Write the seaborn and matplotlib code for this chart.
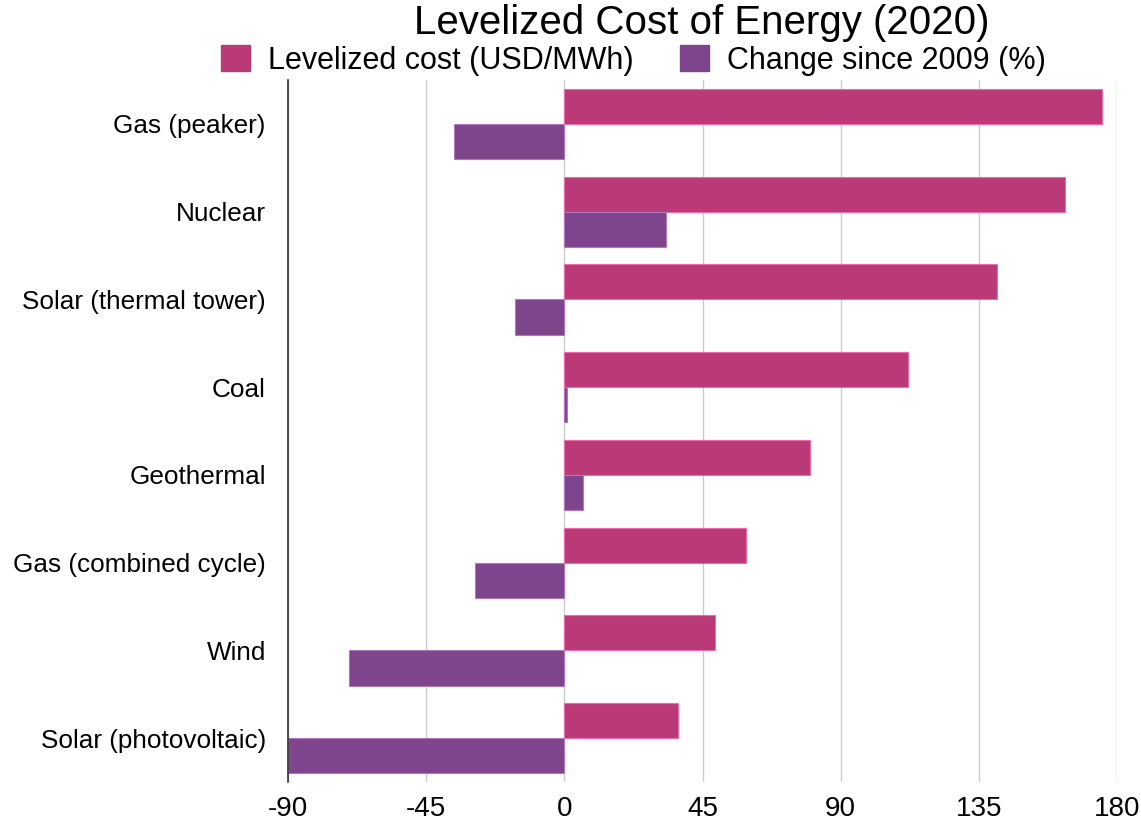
import matplotlib
matplotlib.use("Agg")
import matplotlib.pyplot as plt
import seaborn as sns
import pandas as pd
from matplotlib.patches import Patch

categories = ["Gas (peaker)", "Nuclear", "Solar (thermal tower)", "Coal", "Geothermal",
              "Gas (combined cycle)", "Wind", "Solar (photovoltaic)"]
levelized_cost = [175, 163, 141, 112, 80, 59, 49, 37]
change_since_2009 = [-36, 33, -16, 1, 6, -29, -70, -90]
series_names = ["Levelized cost (USD/MWh)", "Change since 2009 (%)"]
x_ticks = [-90, -45, 0, 45, 90, 135, 180]

colors = ["#BA3A78", "#7E448C"]

df = pd.DataFrame({
    "category": categories * 2,
    "value": levelized_cost + change_since_2009,
    "series": [series_names[0]] * len(categories) + [series_names[1]] * len(categories),
})

sns.set_theme(style="white")
plt.rcParams["font.family"] = ["Liberation Sans", "DejaVu Sans"]
plt.rcParams["text.color"] = "black"
plt.rcParams["xtick.color"] = "black"
plt.rcParams["ytick.color"] = "black"

fig = plt.figure(figsize=(11.41, 8.25), dpi=100)
ax = fig.add_axes([0.2524, 0.052, 0.979 - 0.2524, 0.851])

sns.barplot(data=df, y="category", x="value", hue="series", order=categories,
            hue_order=series_names, palette=colors, orient="h", width=0.8,
            ax=ax, legend=False, saturation=1, linewidth=0.8)

for bar in ax.patches:
    fc = bar.get_facecolor()
    bar.set_edgecolor((min(fc[0] + 0.2, 1), min(fc[1] + 0.2, 1), min(fc[2] + 0.2, 1), 1))

ax.set_xlim(-90, 180)
ax.set_xticks(x_ticks)
ax.set_xticklabels([str(t) for t in x_ticks], fontsize=20)
ax.tick_params(axis="x", length=0, pad=10, labelcolor="black")
ax.tick_params(axis="y", length=0, pad=16, labelsize=18.8, labelcolor="black")
ax.set_xlabel("")
ax.set_ylabel("")
ax.xaxis.grid(True, color="#CCCCCC", linewidth=1)
ax.set_axisbelow(True)
for s in ["top", "right", "bottom"]:
    ax.spines[s].set_visible(False)
ax.spines["left"].set_color("#333333")
ax.spines["left"].set_linewidth(1.2)

fig.text(0.615, 0.972, "Levelized Cost of Energy (2020)", ha="center", va="center",
         fontsize=29, color="black")

handles = [Patch(facecolor=c, edgecolor=c) for c in colors]
fig.legend(handles, series_names, loc="center", bbox_to_anchor=(0.555, 0.927), ncol=2,
           frameon=False, fontsize=22, handlelength=0.95, handleheight=0.95,
           handletextpad=0.6, columnspacing=1.5, labelcolor="black")

fig.savefig("out.png", dpi=100)
